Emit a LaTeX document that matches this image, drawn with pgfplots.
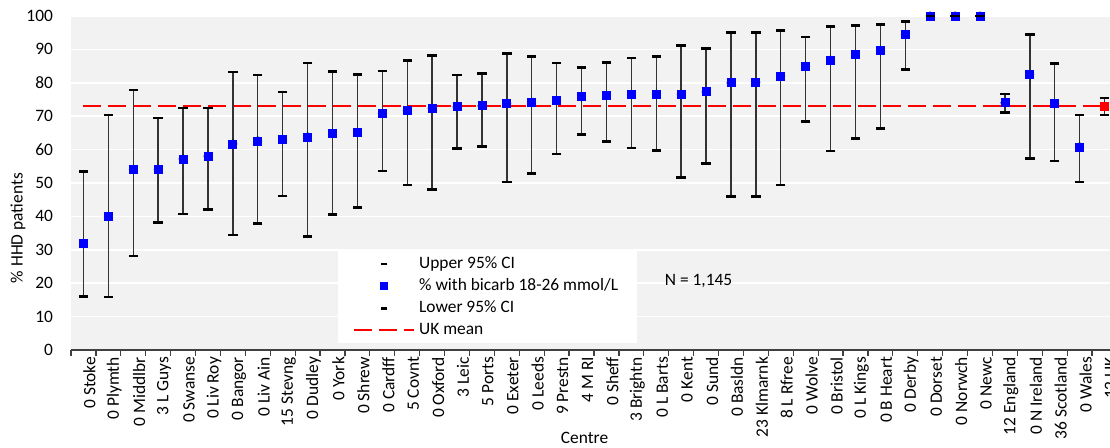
\documentclass[border=0pt]{standalone}
\usepackage{fontspec}
\setmainfont{Carlito}
\usepackage{pgfplots}
\usepackage{pgfplotstable}
\pgfplotsset{compat=1.18}

\definecolor{plotbg}{HTML}{F2F2F2}

% x = centre index, v = % with bicarb 18-26, lo/hi = 95% CI
\pgfplotstableread{
x v lo hi
0 31.8 16.1 53.5
1 40.0 15.9 70.4
2 54.0 28.2 77.8
3 54.1 38.2 69.4
4 57.2 40.7 72.5
5 58.0 42.0 72.5
6 61.7 34.4 83.2
7 62.6 37.8 82.3
8 63.0 46.1 77.2
9 63.8 33.9 85.9
10 64.8 40.5 83.4
11 65.2 42.7 82.4
12 70.8 53.6 83.5
13 71.6 49.4 86.7
14 72.4 48.1 88.2
15 72.8 60.3 82.3
16 73.1 60.9 82.8
17 73.9 50.3 88.8
18 74.2 52.9 87.9
19 74.6 58.7 85.9
20 75.8 64.5 84.5
21 76.2 62.5 86.1
22 76.5 60.5 87.4
23 76.6 59.7 87.9
24 76.6 51.6 91.1
25 77.3 55.8 90.3
26 80.0 46.0 95.1
27 80.1 46.0 95.1
28 81.9 49.4 95.6
29 85.0 68.5 93.7
30 86.8 59.6 96.8
31 88.4 63.3 97.2
32 89.6 66.4 97.5
33 94.5 84.0 98.3
34 100 100 100
35 100 100 100
36 100 100 100
37 74.0 71.1 76.6
38 82.5 57.4 94.4
39 73.7 56.6 85.8
40 60.8 50.3 70.4
41 73.0 70.4 75.5
}\centres

\pgfplotstableread{
x v
41 73.0
}\ukrow

\begin{document}
\begin{tikzpicture}
\begin{axis}[
  scale only axis, width=523pt, height=167pt,
  xmin=-0.5, xmax=41.5, ymin=0, ymax=100,
  clip=false,
  font=\fontsize{8.7}{10.4}\selectfont,
  /pgf/number format/assume math mode=true,
  axis background/.style={fill=plotbg},
  axis x line*=bottom, axis y line*=left,
  y axis line style={draw=none},
  x axis line style={draw=black!75, line width=0.6pt},
  ytick={0,10,...,100},
  ymajorgrids, grid style={white, line width=0.8pt},
  tick align=outside, major tick length=0pt,
  minor xtick={-0.5,0.5,...,41.5}, minor tick length=3pt,
  minor tick style={draw=black!75, line width=0.6pt},
  yticklabel style={xshift=-5.5pt},
  xtick={0,...,41},
  xticklabels={0 Stoke, 0 Plymth, 0 Middlbr, 3 L Guys, 0 Swanse, 0 Liv Roy, 0 Bangor, 0 Liv Ain, 15 Stevng, 0 Dudley, 0 York, 0 Shrew, 0 Cardff, 5 Covnt, 0 Oxford, 3 Leic, 5 Ports, 0 Exeter, 0 Leeds, 9 Prestn, 4 M RI, 0 Sheff, 3 Brightn, 0 L Barts, 0 Kent, 0 Sund, 0 Basldn, 23 Klmarnk, 8 L Rfree, 0 Wolve, 0 Bristol, 0 L Kings, 0 B Heart, 0 Derby, 0 Dorset, 0 Norwch, 0 Newc, 12 England, 0 N Ireland, 36 Scotland, 0 Wales, 12 UK},
  xticklabel style={rotate=90, anchor=east, yshift=-3pt},
  xlabel={Centre}, ylabel={\% HHD patients},
  every axis x label/.style={at={(axis description cs:0.491,-0.263)}, anchor=center},
  every axis y label/.style={at={(axis description cs:-0.0507,0.365)}, rotate=90, anchor=center},
  legend image code/.code={\draw[mark repeat=2,mark phase=2,#1] plot coordinates {(0pt,0pt)(15pt,0pt)(30pt,0pt)};},
  legend style={at={(axis description cs:0.255,0.299)}, anchor=north west, draw=none, fill=white,
    legend cell align=left, row sep=-0.4pt, inner xsep=7.5pt, inner ysep=1pt,
    /tikz/every even column/.append style={column sep=0pt}},
]
% legend entries in the reference's order
\addlegendimage{only marks, mark=-, mark size=1.6pt, line width=1.2pt, black}
\addlegendimage{only marks, mark=square*, mark size=1.8pt, blue}
\addlegendimage{only marks, mark=-, mark size=1.6pt, line width=1.2pt, black}
\addlegendimage{red, line width=1pt, dash pattern=on 9pt off 3.5pt}

% UK mean
\addplot[red, line width=1pt, dash pattern=on 9pt off 3.5pt, forget plot] coordinates {(0,73)(41,73)};
% CI whiskers
\addplot[only marks, mark=none, forget plot,
  error bars/.cd, y dir=both, y explicit, error mark=none,
  error bar style={black!80, line width=0.7pt}]
  table[x=x, y=v, y error plus expr=\thisrow{hi}-\thisrow{v}, y error minus expr=\thisrow{v}-\thisrow{lo}] {\centres};
% centre values
\addplot[only marks, mark=square*, mark size=2pt, blue, forget plot] table[x=x, y=v] {\centres};
\addplot[only marks, mark=square*, mark size=2pt, red, forget plot] table[x=x, y=v] {\ukrow};
% CI caps
\addplot[only marks, mark=-, mark size=2.35pt, line width=1.3pt, black, forget plot] table[x=x, y=hi] {\centres};
\addplot[only marks, mark=-, mark size=2.35pt, line width=1.3pt, black, forget plot] table[x=x, y=lo] {\centres};

\legend{Upper 95\% CI, \% with bicarb 18-26 mmol/L, Lower 95\% CI, UK mean}

\node[anchor=center] at (axis cs:24.7,20.7) {N = 1,145};
\end{axis}
\pgfresetboundingbox
\useasboundingbox (-35.5pt,-49pt) rectangle (519.5pt,175pt);
\end{tikzpicture}
\end{document}
